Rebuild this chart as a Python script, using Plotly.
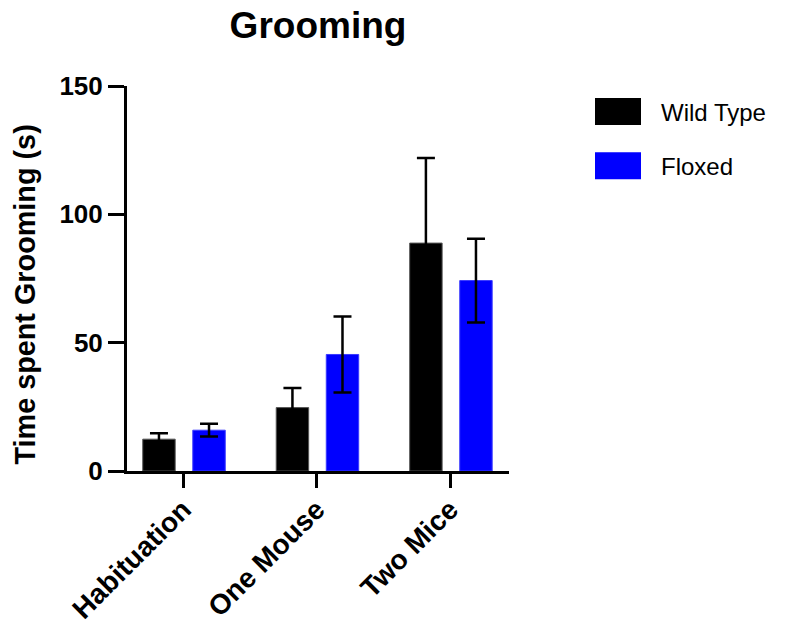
import plotly.graph_objects as go

# Grooming time per test phase and genotype (mean ± error, seconds)
phases = ["Habituation", "One Mouse", "Two Mice"]
series_names = ["Wild Type", "Floxed"]
wild_type_mean = [12.4, 24.7, 88.8]
wild_type_err = [2.3, 7.6, 33.1]
floxed_mean = [15.9, 45.4, 74.2]
floxed_err = [2.5, 14.8, 16.3]
y_ticks = [0, 50, 100, 150]

colors = ["#000000", "#0000FF"]
edge_colors = ["#555555", "#3a3aff"]
FONT = "Liberation Sans, Arial, sans-serif"

x_idx = list(range(len(phases)))
bar_w = 0.243
offsets = [-0.302, 0.073]

fig = go.Figure()
for name, mean, err, col, edge, off in zip(
    series_names, [wild_type_mean, floxed_mean], [wild_type_err, floxed_err],
    colors, edge_colors, offsets,
):
    fig.add_trace(go.Bar(
        x=x_idx, y=mean, name=name,
        width=bar_w, offset=off,
        marker=dict(color=col, line=dict(color=edge, width=1)),
        error_y=dict(type="data", array=err, visible=True,
                     color="black", thickness=2.5, width=9),
        showlegend=False,
    ))

# helpers to place items in paper coordinates from pixel positions
def px_to_paper_x(px):
    return (px - 127) / 382

def px_to_paper_y(py):
    return (471 - py) / 384

# legend swatches and labels to the right of the plot area
for i, (name, col) in enumerate(zip(series_names, colors)):
    top = 99 + i * 54
    fig.add_shape(type="rect", xref="paper", yref="paper",
                  x0=px_to_paper_x(595), x1=px_to_paper_x(641),
                  y0=px_to_paper_y(top + 27), y1=px_to_paper_y(top),
                  fillcolor=col, line=dict(width=0))
    fig.add_annotation(xref="paper", yref="paper",
                       x=px_to_paper_x(659), y=px_to_paper_y(top + 14),
                       xanchor="left", yanchor="middle", showarrow=False,
                       text=name, font=dict(family=FONT, size=24, color="black"))

# y axis title
fig.add_annotation(xref="paper", yref="paper",
                   x=px_to_paper_x(25), y=px_to_paper_y(295),
                   xanchor="center", yanchor="middle", showarrow=False,
                   textangle=-90, text="<b>Time spent Grooming (s)</b>",
                   font=dict(family=FONT, size=28.8, color="black"))

fig.update_layout(
    width=801, height=628,
    margin=dict(l=127, r=292, t=86, b=157, autoexpand=False),
    plot_bgcolor="white", paper_bgcolor="white",
    barmode="overlay",
    title=dict(text="<b>Grooming</b>", x=0.5, xref="paper",
               y=1 - 25 / 628, yref="container", yanchor="middle",
               font=dict(family=FONT, size=37, color="black")),
    xaxis=dict(
        range=[-0.42, 2.442],
        tickmode="array", tickvals=x_idx,
        ticktext=[f"<b>{p}</b>" for p in phases],
        tickangle=-45, automargin=False, ticklabelstandoff=-6,
        tickfont=dict(family=FONT, size=28, color="black"),
        showline=True, linecolor="black", linewidth=3,
        ticks="outside", ticklen=14, tickwidth=3, tickcolor="black",
        showgrid=False, zeroline=False,
    ),
    yaxis=dict(
        range=[0, 150], automargin=False,
        tickmode="array", tickvals=y_ticks,
        ticktext=[f"<b>{v}</b>" for v in y_ticks],
        tickfont=dict(family=FONT, size=26, color="black"),
        showline=True, linecolor="black", linewidth=3,
        ticks="outside", ticklen=16, tickwidth=3, tickcolor="black",
        showgrid=False, zeroline=False,
    ),
)

fig.write_html("out.html")
